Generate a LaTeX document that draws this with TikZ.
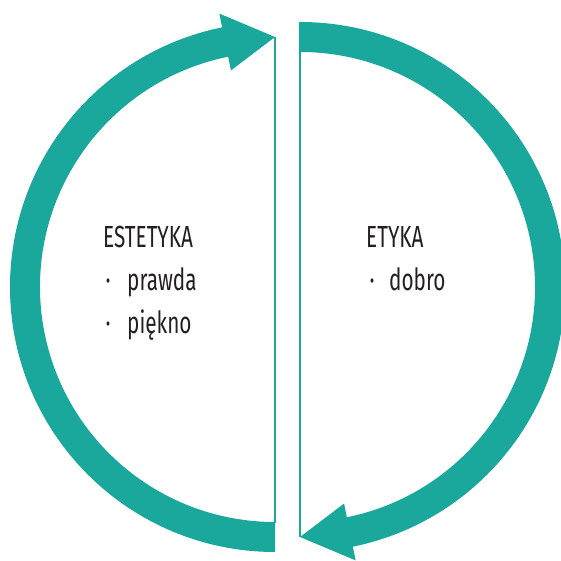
\documentclass[tikz,border=0pt]{standalone}
\usepackage{fontspec}
\setmainfont{Fira Sans}[FakeStretch=0.68]
\definecolor{ringteal}{HTML}{1AA89C}
\definecolor{inktext}{HTML}{231F20}
\begin{document}
\begin{tikzpicture}[x=1pt,y=1pt,
  band/.style={fill=ringteal},
  edge/.style={draw=ringteal,line width=2pt},
  label/.style={inner sep=0pt,anchor=base west,text=inktext,font=\fontsize{30.5}{34}\selectfont},
  dot/.style={inner sep=0pt,anchor=base,text=inktext,font=\fontsize{30.5}{34}\selectfont}]
\useasboundingbox (0,0) rectangle (560,561);
% left half ring, arrow pointing right at the top
\begin{scope}[shift={(275,274)}]
  \fill[band] (270:265) arc[start angle=270,end angle=101.5,radius=265]
    -- (101.5:279) -- (0,250) -- (101.5:221) -- (101.5:235)
    arc[start angle=101.5,end angle=270,radius=235] -- cycle;
  \coordinate (ltip) at (0,250);
  \coordinate (lfoot) at (0,-236);
  \draw[edge] (ltip) -- (lfoot);
\end{scope}
% right half ring, arrow pointing left at the bottom
\begin{scope}[shift={(300,274)}]
  \fill[band] (90:265) arc[start angle=90,end angle=-78.5,radius=265]
    -- (-78.5:279) -- (0,-250) -- (-78.5:221) -- (-78.5:235)
    arc[start angle=-78.5,end angle=90,radius=235] -- cycle;
  \coordinate (rtop) at (0,265);
  \coordinate (rtip) at (0,-250);
  \draw[edge] (rtop) -- (rtip);
\end{scope}
% labels
\node[label] (est) at (103,313) {ESTETYKA};
\node[dot] (b1) at (108,270) {·};
\node[label] (prawda) at (127,270) {prawda};
\node[dot] (b2) at (108,227) {·};
\node[label] (piekno) at (127,227) {piękno};
\node[label] (ety) at (366,313) {ETYKA};
\node[dot] (b3) at (372,270) {·};
\node[label] (dobro) at (389,270) {dobro};
\end{tikzpicture}
\end{document}
